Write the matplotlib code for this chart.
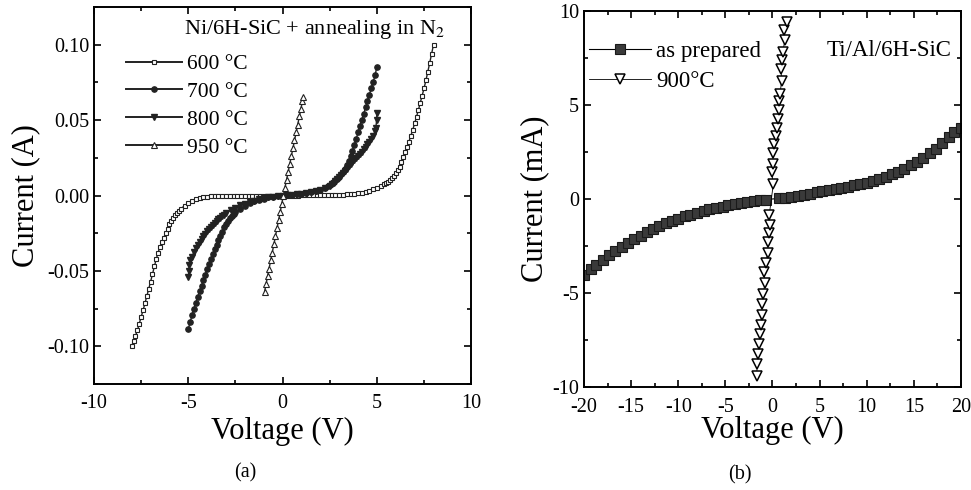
import matplotlib
matplotlib.use("Agg")
import matplotlib.pyplot as plt
from matplotlib.ticker import MultipleLocator

plt.rcParams['font.family'] = ['Liberation Serif', 'DejaVu Serif']
plt.rcParams['mathtext.fontset'] = 'stix'

# ---------------- panel (a) data: Ni/6H-SiC ----------------
v600 = [-8.0, -7.9, -7.8, -7.7, -7.6, -7.5, -7.4, -7.3, -7.2, -7.1, -7.0, -6.9, -6.8, -6.7,
        -6.6, -6.5, -6.4, -6.3, -6.2, -6.1, -6.0, -5.9, -5.8, -5.7, -5.6, -5.5, -5.4, -5.2,
        -5.0, -4.8, -4.6, -4.4, -4.2, -4.0, -3.8, -3.6, -3.4, -3.2, -3.0, -2.8, -2.6, -2.4,
        -2.2, -2.0, -1.8, -1.6, -1.4, -1.2, -1.0, -0.8, -0.6, -0.4, -0.2, 0.0, 0.2, 0.4, 0.6,
        0.8, 1.0, 1.2, 1.4, 1.6, 1.8, 2.0, 2.2, 2.4, 2.6, 2.8, 3.0, 3.2, 3.4, 3.6, 3.8, 4.0,
        4.2, 4.4, 4.6, 4.8, 5.0, 5.2, 5.4, 5.5, 5.6, 5.7, 5.8, 5.9, 6.0, 6.1, 6.2, 6.3, 6.4,
        6.5, 6.6, 6.7, 6.8, 6.9, 7.0, 7.1, 7.2, 7.3, 7.4, 7.5, 7.6, 7.7, 7.8, 7.9, 8.0]
i600 = [-0.1000, -0.0965, -0.0930, -0.0895, -0.0850, -0.0805, -0.0762, -0.0716, -0.0668,
        -0.0620, -0.0572, -0.0522, -0.0470, -0.0422, -0.0378, -0.0340, -0.0310, -0.0280,
        -0.0250, -0.0222, -0.0192, -0.0168, -0.0148, -0.0130, -0.0114, -0.0100, -0.0088,
        -0.0068, -0.0050, -0.0034, -0.0022, -0.0015, -0.0010, -0.0007, -0.0006, -0.0005,
        -0.0004, -0.0003, -0.0002, -0.0002, -0.0002, -0.0001, -0.0001, -0.0001, -0.0001,
        0.0000, 0.0000, 0.0000, 0.0000, 0.0000, 0.0000, 0.0000, 0.0000, 0.0000, 0.0000,
        0.0000, 0.0000, 0.0000, 0.0001, 0.0001, 0.0001, 0.0001, 0.0002, 0.0002, 0.0002,
        0.0003, 0.0003, 0.0004, 0.0005, 0.0006, 0.0007, 0.0009, 0.0011, 0.0014, 0.0018,
        0.0024, 0.0031, 0.0040, 0.0052, 0.0064, 0.0076, 0.0083, 0.0092, 0.0102, 0.0115,
        0.0130, 0.0148, 0.0168, 0.0192, 0.0223, 0.0256, 0.0288, 0.0322, 0.0358, 0.0396,
        0.0436, 0.0478, 0.0522, 0.0568, 0.0616, 0.0663, 0.0712, 0.0765, 0.0822, 0.0880,
        0.0940, 0.1000]

v700 = [-5.0, -4.9, -4.8, -4.7, -4.6, -4.5, -4.4, -4.3, -4.2, -4.1, -4.0, -3.9, -3.8, -3.7,
        -3.6, -3.5, -3.4, -3.3, -3.2, -3.1, -3.0, -2.9, -2.8, -2.7, -2.6, -2.5, -2.25, -2.0,
        -1.75, -1.5, -1.25, -1.0, -0.75, -0.5, -0.25, 0.0, 0.25, 0.5, 0.75, 1.0, 1.25, 1.5,
        1.75, 2.0, 2.25, 2.4, 2.5, 2.6, 2.7, 2.8, 2.9, 3.0, 3.1, 3.2, 3.3, 3.4, 3.5, 3.6, 3.7,
        3.8, 3.9, 4.0, 4.1, 4.2, 4.3, 4.4, 4.5, 4.6, 4.7, 4.8, 4.9, 5.0]
i700 = [-0.0885, -0.0838, -0.0792, -0.0750, -0.0710, -0.0672, -0.0635, -0.0598, -0.0562,
        -0.0525, -0.0490, -0.0456, -0.0422, -0.0390, -0.0358, -0.0328, -0.0298, -0.0268,
        -0.0240, -0.0212, -0.0188, -0.0168, -0.0150, -0.0135, -0.0121, -0.0110, -0.0088,
        -0.0068, -0.0050, -0.0037, -0.0028, -0.0020, -0.0013, -0.0008, -0.0004, 0.0000,
        0.0002, 0.0004, 0.0007, 0.0011, 0.0015, 0.0020, 0.0027, 0.0036, 0.0050, 0.0066,
        0.0073, 0.0081, 0.0090, 0.0100, 0.0111, 0.0124, 0.0140, 0.0158, 0.0178, 0.0203,
        0.0232, 0.0264, 0.0296, 0.0333, 0.0375, 0.0418, 0.0460, 0.0501, 0.0542, 0.0584,
        0.0627, 0.0669, 0.0711, 0.0752, 0.0796, 0.0855]

v800 = [-5.0, -4.97, -4.95, -4.9, -4.8, -4.7, -4.6, -4.5, -4.4, -4.3, -4.2, -4.1, -4.0, -3.9,
        -3.8, -3.7, -3.6, -3.5, -3.4, -3.3, -3.2, -3.1, -3.0, -2.75, -2.5, -2.25, -2.0, -1.75,
        -1.5, -1.25, -1.0, -0.75, -0.5, -0.25, 0.0, 0.25, 0.5, 0.75, 1.0, 1.25, 1.5, 1.75,
        2.0, 2.25, 2.5, 2.6, 2.7, 2.8, 2.9, 3.0, 3.1, 3.2, 3.3, 3.4, 3.5, 3.6, 3.7, 3.8, 3.9,
        4.0, 4.1, 4.2, 4.3, 4.4, 4.5, 4.6, 4.7, 4.8, 4.9, 4.95, 4.98, 5.0]
i800 = [-0.0540, -0.0500, -0.0460, -0.0430, -0.0405, -0.0375, -0.0348, -0.0325, -0.0305,
        -0.0287, -0.0270, -0.0254, -0.0238, -0.0224, -0.0210, -0.0196, -0.0183, -0.0170,
        -0.0158, -0.0147, -0.0136, -0.0126, -0.0117, -0.0097, -0.0080, -0.0066, -0.0054,
        -0.0043, -0.0034, -0.0026, -0.0019, -0.0013, -0.0008, -0.0004, 0.0000, 0.0002,
        0.0004, 0.0007, 0.0011, 0.0015, 0.0020, 0.0027, 0.0036, 0.0048, 0.0066, 0.0074,
        0.0084, 0.0096, 0.0108, 0.0121, 0.0134, 0.0148, 0.0163, 0.0178, 0.0193, 0.0207,
        0.0221, 0.0235, 0.0249, 0.0263, 0.0277, 0.0291, 0.0306, 0.0322, 0.0339, 0.0356,
        0.0375, 0.0397, 0.0425, 0.0450, 0.0500, 0.0545]

v950 = [-0.96, -0.88, -0.80, -0.72, -0.63, -0.55, -0.46, -0.38, -0.30, -0.21, -0.13, -0.05,
        0.04, 0.12, 0.21, 0.29, 0.38, 0.46, 0.55, 0.63, 0.72, 0.80, 0.89, 0.97, 1.05, 1.10]
i950 = [-0.0640, -0.0588, -0.0537, -0.0485, -0.0430, -0.0378, -0.0322, -0.0270, -0.0218,
        -0.0162, -0.0110, -0.0058, 0.0000, 0.0050, 0.0105, 0.0155, 0.0208, 0.0260, 0.0315,
        0.0365, 0.0420, 0.0470, 0.0525, 0.0575, 0.0625, 0.0655]

labels_a = ['600 °C', '700 °C', '800 °C', '950 °C']
xticks_a = [-10, -5, 0, 5, 10]
yticks_a = [-0.10, -0.05, 0.00, 0.05, 0.10]

# ---------------- panel (b) data: Ti/Al/6H-SiC ----------------
v_asprep = [-20.0, -19.3, -18.7, -18.0, -17.3, -16.7, -16.0, -15.3, -14.7, -14.0, -13.3,
            -12.7, -12.0, -11.3, -10.7, -10.0, -9.3, -8.7, -8.0, -7.3, -6.7, -6.0, -5.3,
            -4.7, -4.0, -3.3, -2.7, -2.0, -1.3, -0.7, 0.7, 1.3, 2.0, 2.7, 3.3, 4.0, 4.7,
            5.3, 6.0, 6.7, 7.3, 8.0, 8.7, 9.3, 10.0, 10.7, 11.3, 12.0, 12.7, 13.3, 14.0,
            14.7, 15.3, 16.0, 16.7, 17.3, 18.0, 18.7, 19.3, 20.0]
i_asprep = [-4.05, -3.75, -3.50, -3.25, -3.00, -2.78, -2.55, -2.33, -2.13, -1.95, -1.77,
            -1.60, -1.45, -1.30, -1.17, -1.05, -0.93, -0.83, -0.73, -0.64, -0.55, -0.47,
            -0.40, -0.33, -0.27, -0.21, -0.16, -0.11, -0.07, -0.03, 0.03, 0.06, 0.10, 0.14,
            0.20, 0.28, 0.36, 0.42, 0.49, 0.55, 0.60, 0.66, 0.72, 0.78, 0.85, 0.95, 1.06,
            1.18, 1.32, 1.46, 1.62, 1.80, 1.98, 2.18, 2.42, 2.68, 2.98, 3.30, 3.55, 3.75]

v900 = [-1.68, -1.61, -1.50, -1.40, -1.33, -1.25, -1.15, -1.08, -0.98, -0.80, -0.87, -0.69,
        -0.51, -0.45, -0.34, -0.27, -0.34, 0.09, -0.09, 0.02, 0.09, 0.19, 0.34, 0.44, 0.62,
        0.69, 0.69, 0.80, 0.97, 0.90, 0.97, 1.08, 1.33, 1.25, 1.51]
i900 = [-9.39, -8.77, -8.24, -7.70, -7.17, -6.68, -6.18, -5.56, -5.03, -4.49, -3.87, -3.42,
        -2.85, -2.30, -1.82, -1.37, -0.84, 0.80, 1.44, 1.87, 2.46, 2.90, 3.35, 3.80, 4.25,
        4.73, 5.22, 5.58, 6.29, 6.92, 7.40, 7.80, 8.47, 9.00, 9.41]

labels_b = ['as prepared', '900°C']
xticks_b = [-20, -15, -10, -5, 0, 5, 10, 15, 20]
yticks_b = [-10, -5, 0, 5, 10]

# ---------------- figure ----------------
fig = plt.figure(figsize=(9.71, 4.90), dpi=100)
ax1 = fig.add_axes([0.0968, 0.2163, 0.3885, 0.7694])
ax2 = fig.add_axes([0.6014, 0.2102, 0.3883, 0.7674])

def style_axes(ax, fs, xpad):
    for s in ax.spines.values():
        s.set_linewidth(1.4)
    ax.tick_params(which='both', direction='in', top=True, right=True, labelsize=fs, width=1.2)
    ax.tick_params(which='major', length=5)
    ax.tick_params(which='minor', length=3)
    ax.tick_params(axis='x', which='major', pad=xpad)

# panel (a)
lc = '#222222'
ax1.plot(v600, i600, color=lc, lw=1.0, marker='s', ms=3.5, mfc='white', mec=lc, mew=0.8, label=labels_a[0])
ax1.plot(v700, i700, color=lc, lw=1.0, marker='o', ms=3.8, mfc=lc, mec=lc, label=labels_a[1])
ax1.plot(v800, i800, color=lc, lw=1.0, marker='v', ms=4.0, mfc=lc, mec=lc, label=labels_a[2])
ax1.plot(v950, i950, color=lc, lw=1.0, marker='^', ms=4.5, mfc='white', mec=lc, mew=0.8, label=labels_a[3])
ax1.set_xlim(-10, 10)
ax1.set_ylim(-0.125, 0.125)
ax1.set_xticks(xticks_a)
ax1.set_xticklabels([str(t) for t in xticks_a])
ax1.set_yticks(yticks_a)
ax1.set_yticklabels(['%.2f' % t for t in yticks_a])
ax1.xaxis.set_minor_locator(MultipleLocator(2.5))
ax1.yaxis.set_minor_locator(MultipleLocator(0.025))
style_axes(ax1, 14.5, 7)
ax1.set_xlabel('Voltage (V)', fontsize=22, labelpad=3)
ax1.set_ylabel('Current (A)', fontsize=22, labelpad=5)
ax1.text(0.238, 0.94, 'Ni/6H-SiC + annealing in N$_2$', transform=ax1.transAxes,
         fontsize=16, ha='left', va='center')
leg1 = ax1.legend(loc='upper left', bbox_to_anchor=(0.046, 0.915), frameon=False, fontsize=15.5,
                  handlelength=2.6, numpoints=1, handletextpad=0.2, labelspacing=0.36, borderpad=0.2)
for h in leg1.get_lines():
    h.set_linewidth(1.4)

# panel (b)
ax2.plot(v_asprep, i_asprep, color='black', lw=0.8, marker='s', ms=6.8, mfc='#3a3a3a', mec='#1a1a1a',
         mew=0.8, label=labels_b[0])
ax2.plot(v900, i900, color='black', lw=0.6, marker='v', ms=7.5, mfc='white', mec='black',
         mew=1.1, label=labels_b[1])
ax2.set_xlim(-20, 20)
ax2.set_ylim(-10, 10)
ax2.set_xticks(xticks_b)
ax2.set_xticklabels([str(t) for t in xticks_b])
ax2.set_yticks(yticks_b)
ax2.set_yticklabels([str(t) for t in yticks_b])
ax2.xaxis.set_minor_locator(MultipleLocator(2.5))
ax2.yaxis.set_minor_locator(MultipleLocator(2.5))
style_axes(ax2, 14.5, 8)
ax2.set_xlabel('Voltage (V)', fontsize=22, labelpad=-1)
ax2.set_ylabel('Current (mA)', fontsize=22, labelpad=2)
ax2.text(0.975, 0.895, 'Ti/Al/6H-SiC', transform=ax2.transAxes, fontsize=16.5, ha='right', va='center')
ax2.legend(loc='upper left', bbox_to_anchor=(-0.028, 0.962), frameon=False, fontsize=16.5,
           handlelength=2.7, numpoints=1, handletextpad=0.2, labelspacing=0.36, borderpad=0.2)

fig.text(0.2523, 0.035, '(a)', fontsize=14.5, ha='center', va='center')
fig.text(0.762, 0.031, '(b)', fontsize=14.5, ha='center', va='center')

fig.savefig('out.png', dpi=100)
